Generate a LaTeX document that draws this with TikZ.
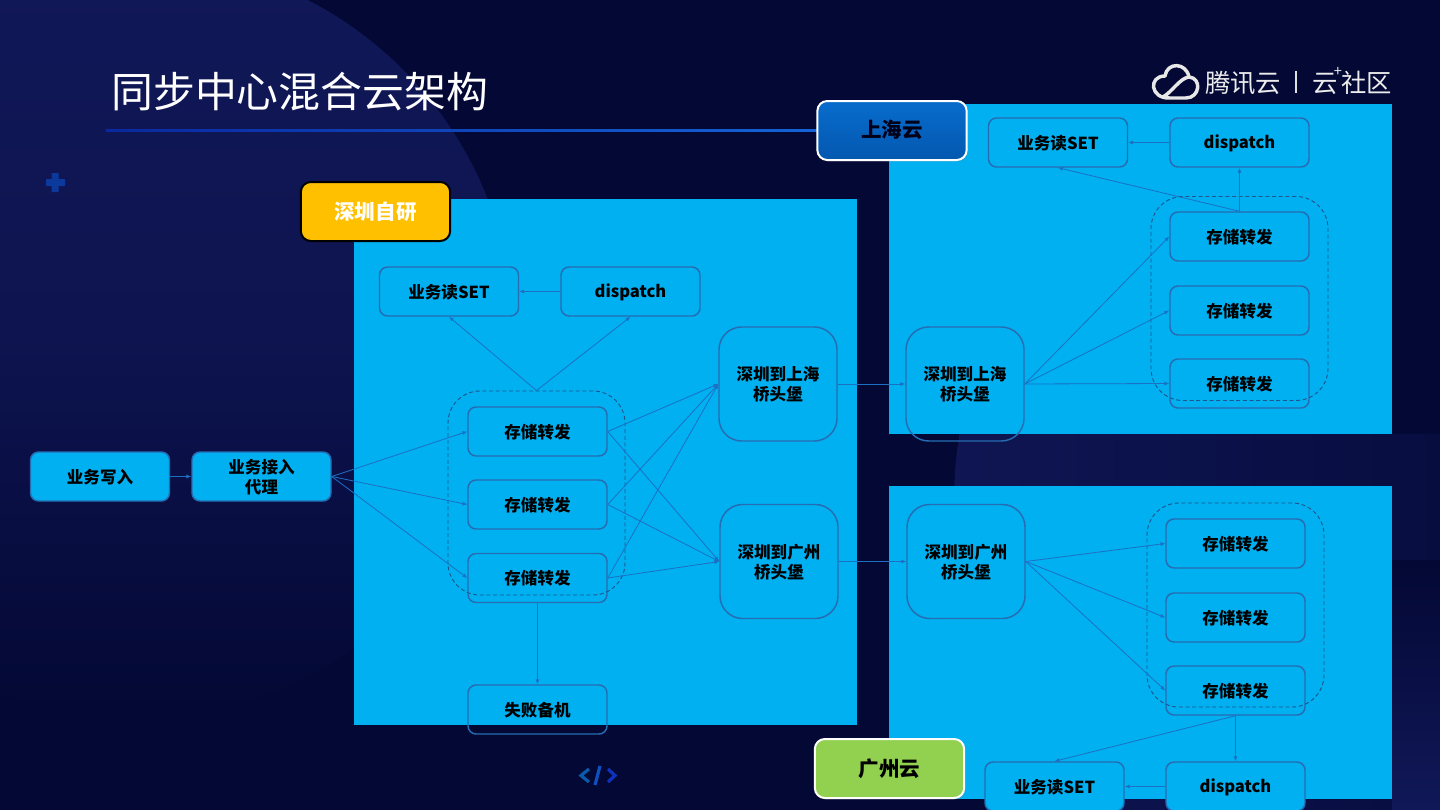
\documentclass[tikz,border=0pt]{standalone}
\usepackage{fontspec}
\usetikzlibrary{arrows.meta,shadows}
\setmainfont{Noto Sans CJK SC}
\newfontfamily\cjk{Noto Sans CJK SC}
\definecolor{bgc}{RGB}{3,8,52}
\definecolor{lite}{RGB}{17,24,88}
\definecolor{panel}{RGB}{0,176,240}
\definecolor{edge}{RGB}{28,112,196}
\definecolor{brd}{RGB}{38,108,178}
\definecolor{plusc}{RGB}{12,58,156}
\definecolor{ica}{RGB}{10,90,170}
\definecolor{icb}{RGB}{15,80,190}
\definecolor{icc}{RGB}{15,50,190}
\definecolor{rulea}{RGB}{10,40,160}
\definecolor{ruleb}{RGB}{20,100,215}
\definecolor{tagy}{RGB}{255,192,0}
\definecolor{tagba}{RGB}{8,108,205}
\definecolor{tagbb}{RGB}{4,88,175}
\definecolor{tagg}{RGB}{146,208,80}
\newcommand{\lb}[1]{\raisebox{-.4pt}[\height][\depth]{#1}}
\tikzset{
  base/.style={draw=brd,line width=1.1pt,inner sep=0pt,align=center,text=black,font=\cjk\bfseries\fontsize{12.4}{15}\selectfont},
  fillbox/.style={base,fill=panel,rounded corners=6pt,minimum width=104.25pt,minimum height=36.75pt},
  openbox/.style={base,rounded corners=6pt,minimum width=104.25pt,minimum height=36.75pt},
  bridge/.style={base,rounded corners=17pt,minimum width=88.5pt,minimum height=85.5pt},
  group/.style={draw=brd!80!black,densely dashed,line width=0.7pt,rounded corners=24pt,minimum width=132.75pt,minimum height=153pt,inner sep=0pt},
  tag/.style={line width=1.5pt,rounded corners=7.5pt,minimum width=112pt,minimum height=44.25pt,inner sep=0pt,font=\cjk\bfseries\fontsize{15.4}{18}\selectfont},
  lift/.style={drop shadow={shadow xshift=0.8pt,shadow yshift=-1pt,opacity=0.4}},
  link/.style={draw=edge,line width=0.6pt,-{Latex[length=3.6pt,width=3pt]}},
  logotxt/.style={text=white!85!gray,inner sep=0pt,font=\cjk\fontsize{19}{22}\selectfont}
}
\begin{document}
\begin{tikzpicture}[x=0.75pt,y=-0.75pt]
\useasboundingbox (0,0) rectangle (1440,810);
% background
\fill[bgc] (0,0) rectangle (1440,810);
\begin{scope}
\clip (0,0) rectangle (1440,810);
\shade[top color=lite,bottom color=bgc,middle color=lite!75!bgc] (134,338) circle [radius=380];
\end{scope}
\begin{scope}
\clip (0,434) rectangle (1440,810);
\shade[left color=lite!85!bgc,middle color=bgc,right color=bgc] (1350,500) circle [radius=396];
\end{scope}
\shade[top color=bgc,bottom color=lite] (1392,560) rectangle (1440,810);
% title
\node[anchor=west,text=white,inner sep=0pt,font=\cjk\fontsize{31.4}{36}\selectfont] (title) at (111,92) {同步中心混合云架构};
\shade[left color=rulea,right color=ruleb] (106,129) rectangle (830,131);
% decorative
\fill[plusc,rounded corners=0.5pt] (51.5,173) rectangle (58.5,192);
\fill[plusc,rounded corners=0.5pt] (46,179) rectangle (65,186);
\draw[line width=2.4pt,ica] (589,769) -- (581,775.5) -- (589,782);
\draw[line width=2.4pt,icb] (600,766) -- (595,785);
\draw[line width=2.4pt,icc] (608,769) -- (615,775.5) -- (608,782);
% logo
\begin{scope}[draw=white!82!gray,line width=2.6pt,line join=round]
\draw (1170,98) .. controls (1150,99) and (1148,76) .. (1165,76) .. controls (1167,62) and (1186,62) .. (1189,77) .. controls (1202,78) and (1200,98) .. (1186,98) -- cycle;
\draw (1163,97) .. controls (1172,92) and (1180,78) .. (1189,77);
\end{scope}
\node[logotxt,anchor=west] (lg1) at (1205,83) {腾讯云};
\node[logotxt,anchor=west] (lg2) at (1312,84) {云};
\node[logotxt,anchor=east] (lg3) at (1392,83) {社区};
\node[logotxt,font=\cjk\fontsize{11}{11}\selectfont] (lg4) at (1338,72) {+};
\fill[white!75!gray] (1295.3,71) rectangle (1296.7,93);
% panels
\fill[panel] (354,199) rectangle (857,725);
\fill[panel] (889,104) rectangle (1392,434);
\fill[panel] (889,486) rectangle (1392,799);
% left outer boxes
\node[fillbox] (w) at (100,476.5) {\lb{业务写入}};
\node[fillbox] (p) at (261.5,476.5) {\lb{业务接入}\\\lb{代理}};
% Shenzhen
\node[fillbox] (aset) at (449,291.5) {\lb{业务读SET}};
\node[fillbox] (adis) at (630.5,291.5) {\lb{dispatch}};
\node[fillbox] (as1) at (537.5,431.5) {\lb{存储转发}};
\node[fillbox] (as2) at (537.5,504.5) {\lb{存储转发}};
\node[fillbox] (as3) at (537.5,578) {\lb{存储转发}};
\node[group] (ag) at (536.5,493) {};
\node[openbox] (afail) at (537.5,709.5) {\lb{失败备机}};
\node[bridge] (ab1) at (778,384) {\lb{深圳到上海}\\\lb{桥头堡}};
\node[bridge] (ab2) at (779,561.5) {\lb{深圳到广州}\\\lb{桥头堡}};
% Shanghai
\node[bridge] (bb) at (965,384) {\lb{深圳到上海}\\\lb{桥头堡}};
\node[fillbox] (bset) at (1058,142.5) {\lb{业务读SET}};
\node[fillbox] (bdis) at (1239.5,142.5) {\lb{dispatch}};
\node[fillbox] (bs1) at (1239.5,236.5) {\lb{存储转发}};
\node[fillbox] (bs2) at (1239.5,310.5) {\lb{存储转发}};
\node[fillbox] (bs3) at (1239.5,383.5) {\lb{存储转发}};
\node[group] (bg) at (1239.5,298.5) {};
% Guangzhou
\node[bridge] (cb) at (966,561.5) {\lb{深圳到广州}\\\lb{桥头堡}};
\node[fillbox] (cs1) at (1235.5,543.5) {\lb{存储转发}};
\node[fillbox] (cs2) at (1235.5,617.5) {\lb{存储转发}};
\node[fillbox] (cs3) at (1235.5,690.5) {\lb{存储转发}};
\node[group] (cg) at (1235.5,605) {};
\node[fillbox] (cset) at (1054.5,786.5) {\lb{业务读SET}};
\node[fillbox] (cdis) at (1235.5,786.5) {\lb{dispatch}};
% connectors
\draw[link] (w.east) -- (p.west);
\foreach \t in {as1,as2,as3} {
  \draw[link] (p.east) -- (\t.west);
  \draw[link] (\t.east) -- (ab1.west);
  \draw[link] (\t.east) -- (ab2.west);
}
\draw[link] (ag.north) -- (aset.south);
\draw[link] (ag.north) -- (adis.south);
\draw[link] (adis.west) -- (aset.east);
\draw[link] (as3.south) -- (afail.north);
\draw[link] (ab1.east) -- (bb.west);
\draw[link] (ab2.east) -- (cb.west);
\foreach \t in {bs1,bs2,bs3} \draw[link] (bb.east) -- (\t.west);
\draw[link] (bs1.north) -- (bdis.south);
\draw[link] (bs1.north) -- (bset.south);
\draw[link] (bdis.west) -- (bset.east);
\foreach \t in {cs1,cs2,cs3} \draw[link] (cb.east) -- (\t.west);
\draw[link] (cs3.south) -- (cdis.north);
\draw[link] (cs3.south) -- (cset.north);
\draw[link] (cdis.west) -- (cset.east);
% tags
\node[tag,draw=black,fill=tagy,text=white] (t1) at (375.5,211.5) {深圳自研};
\node[tag,lift,draw=white,top color=tagba,bottom color=tagbb,text=black!90!blue] (t2) at (892,130.5) {\raisebox{.75pt}[\height][\depth]{上海云}};
\node[tag,lift,draw=white,fill=tagg,text=black] (t3) at (889.5,768.5) {广州云};
\end{tikzpicture}
\end{document}
